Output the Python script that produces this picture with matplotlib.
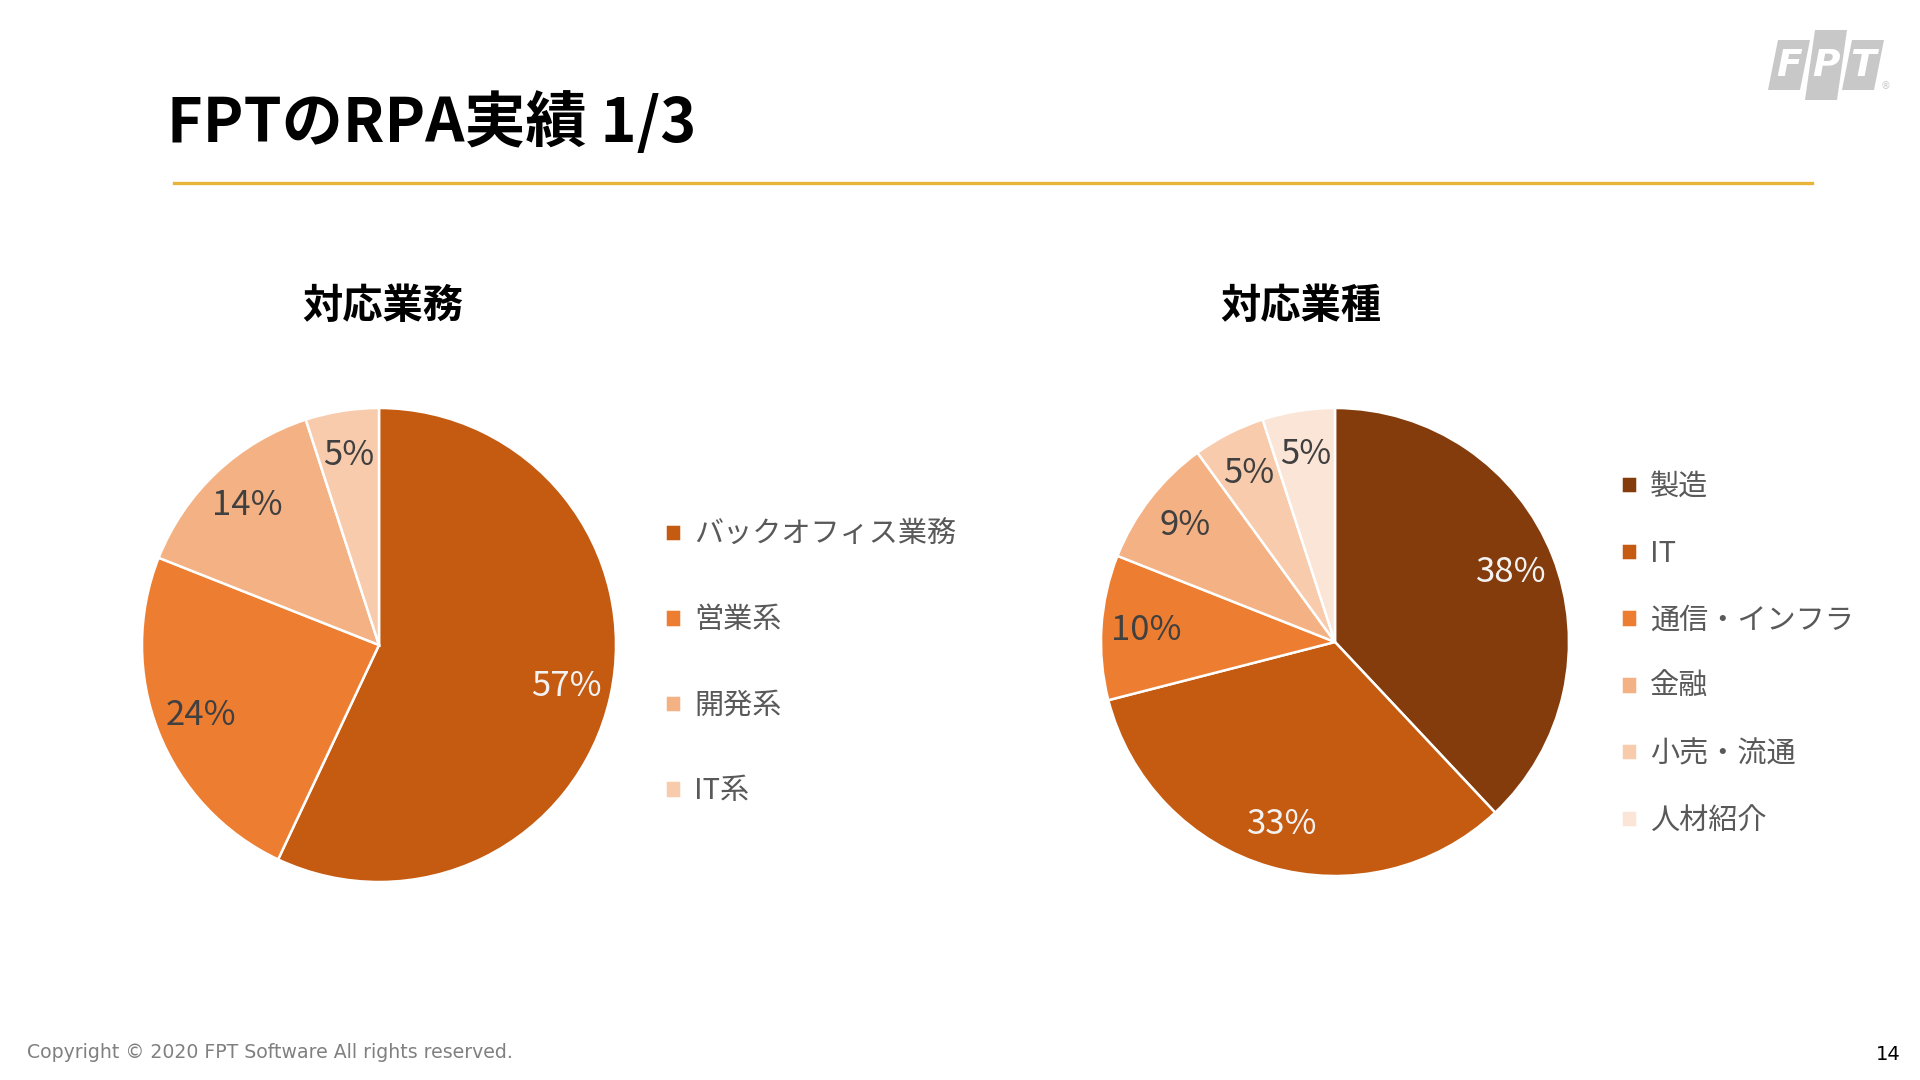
import matplotlib
matplotlib.use("Agg")
import matplotlib.pyplot as plt
from matplotlib.patches import Polygon

plt.rcParams['font.family'] = ['Noto Sans CJK JP', 'DejaVu Sans']

# ---- data ----
title = "FPTのRPA実績 1/3"
left_title = "対応業務"
left_labels = ["バックオフィス業務", "営業系", "開発系", "IT系"]
left_values = [57, 24, 14, 5]
left_colors = ["#C55A11", "#ED7D31", "#F4B183", "#F8CBAD"]
left_text_colors = ["#F2F2F2", "#404040", "#404040", "#404040"]

right_title = "対応業種"
right_labels = ["製造", "IT", "通信・インフラ", "金融", "小売・流通", "人材紹介"]
right_values = [38, 33, 10, 9, 5, 5]
right_colors = ["#843C0C", "#C55A11", "#ED7D31", "#F4B183", "#F8CBAD", "#FBE5D6"]
right_text_colors = ["#F2F2F2", "#F2F2F2", "#404040", "#404040", "#404040", "#404040"]

copyright_text = "Copyright © 2020 FPT Software All rights reserved."
page_no = "14"

W, H = 1920, 1080
fig = plt.figure(figsize=(W / 100, H / 100), dpi=100)
fig.patch.set_facecolor("white")


def fx(x):
    return x / W


def fy(y):
    return 1 - y / H


# title
fig.text(fx(167), fy(124), title, fontsize=44, fontweight="bold", color="black",
         ha="left", va="center")
# yellow rule
fig.add_artist(plt.Line2D([fx(174), fx(1812)], [fy(183), fy(183)], color="#E8B53A",
                          linewidth=2.4, transform=fig.transFigure))

# logo (decoration)
logo_gray = "#C8C8C8"
blocks = [(1768, 40, 90, "F"), (1805, 30, 100, "P"), (1842, 40, 90, "T")]
for x0, ytop, ybot, letter in blocks:
    w = 32
    skew = 10
    poly = Polygon([(fx(x0), fy(ybot)), (fx(x0 + w), fy(ybot)),
                    (fx(x0 + w + skew), fy(ytop)), (fx(x0 + skew), fy(ytop))],
                   closed=True, transform=fig.transFigure, facecolor=logo_gray,
                   edgecolor="none")
    fig.add_artist(poly)
    fig.text(fx(x0 + w / 2 + skew / 2), fy(66), letter, fontsize=27, fontweight="bold",
             fontstyle="italic", color="white", ha="center", va="center",
             family="DejaVu Sans")
fig.text(fx(1885), fy(86), "®", fontsize=7, color=logo_gray, ha="center", va="center",
         family="DejaVu Sans")


def draw_pie(cx, cy, r, values, colors, text_colors, labels, sub_title, tx,
             leg_x, leg_top, spacing):
    pad = 1.04
    s = r * pad
    ax = fig.add_axes([fx(cx - s), fy(cy + s), 2 * s / W, 2 * s / H])
    wedges, texts, autotexts = ax.pie(
        values, colors=colors, startangle=90, counterclock=False,
        autopct=lambda p: f"{p:.0f}%", pctdistance=0.81,
        wedgeprops=dict(edgecolor="white", linewidth=1.8),
        textprops=dict(fontsize=25))
    for t, c in zip(autotexts, text_colors):
        t.set_color(c)
    ax.set_xlim(-pad, pad)
    ax.set_ylim(-pad, pad)
    ax.set_aspect("equal")
    ax.axis("off")
    fig.text(fx(tx), fy(306), sub_title, fontsize=29, fontweight="bold",
             color="black", ha="center", va="center")
    fig.legend(wedges, labels, loc="upper left",
               bbox_to_anchor=(fx(leg_x), fy(leg_top)), bbox_transform=fig.transFigure,
               frameon=False, fontsize=21, labelcolor="#595959",
               handlelength=0.55, handleheight=0.55, handletextpad=0.45,
               labelspacing=spacing, borderpad=0, borderaxespad=0)


draw_pie(379, 645, 237, left_values, left_colors, left_text_colors, left_labels,
         left_title, 383, 665, 520, 1.9)
draw_pie(1335, 642, 234, right_values, right_colors, right_text_colors, right_labels,
         right_title, 1301, 1621, 472, 1.26)

fig.text(fx(27), fy(1052), copyright_text, fontsize=13.6, color="#808080",
         ha="left", va="center", family="DejaVu Sans")
fig.text(fx(1901), fy(1054), page_no, fontsize=14, color="black",
         ha="right", va="center", family="DejaVu Sans")

fig.savefig("out.png", dpi=100, facecolor="white")
